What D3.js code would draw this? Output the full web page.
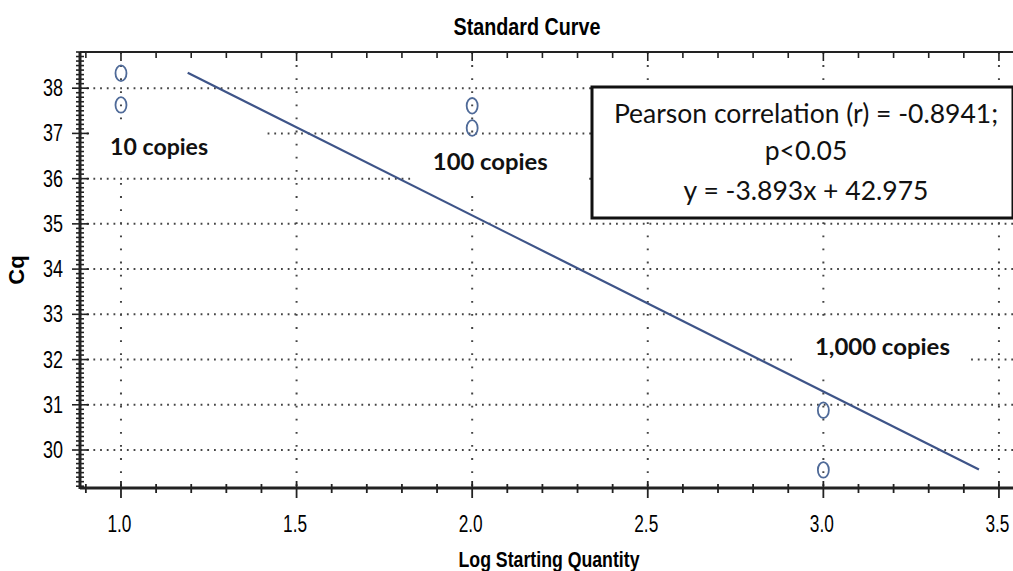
<!DOCTYPE html>
<html>
<head>
<meta charset="utf-8">
<script src="https://cdn.jsdelivr.net/npm/d3@7"></script>
<style>
html,body{margin:0;padding:0;background:#fff;}
svg{display:block;}
</style>
</head>
<body>
<svg id="chart" width="1013" height="571"></svg>
<script>
// ---- data ----
const xValues = [1.0, 1.0, 2.0, 2.0, 3.0, 3.0];
const cqValues = [38.33, 37.63, 37.61, 37.12, 30.88, 29.56];
const fitX = [1.19, 3.443];
const fitY = [38.34, 29.57];
const xTickValues = [1.0, 1.5, 2.0, 2.5, 3.0, 3.5];
const yTickValues = [30, 31, 32, 33, 34, 35, 36, 37, 38];
const copyLabels = ["10 copies", "100 copies", "1,000 copies"];
const copyLabelX = [0.969, 1.888, 2.976];
const copyLabelY = [36.525, 36.19, 32.10];
const statsLines = ["Pearson correlation (r) = -0.8941;", "p<0.05", "y = -3.893x + 42.975"];
const titleText = "Standard Curve";
const xTitle = "Log Starting Quantity";
const yTitle = "Cq";

(function () {
// ---- layout ----
const pL = 80, pR = 1013, pT = 52, pB = 488;
const svg = d3.select("#chart");
const x = d3.scaleLinear().domain([0.8833, 3.540]).range([pL, pR]);
const y = d3.scaleLinear().domain([29.16, 38.80]).range([pB, pT]);

const narrow = "'Liberation Sans',Arial,sans-serif";
const calib = "Lato,'Noto Sans',sans-serif";

// grid
const g = svg.append("g");
g.selectAll(".hg").data(yTickValues).enter().append("line")
  .attr("x1", pL).attr("x2", pR)
  .attr("y1", d => y(d)).attr("y2", d => y(d))
  .attr("stroke", "#444").attr("stroke-width", 2)
  .attr("stroke-dasharray", "1.8,4.9");
g.selectAll(".vg").data(xTickValues).enter().append("line")
  .attr("x1", d => x(d)).attr("x2", d => x(d))
  .attr("y1", pT).attr("y2", pB)
  .attr("stroke", "#444").attr("stroke-width", 2)
  .attr("stroke-dasharray", "1.8,11.3");

// white boxes behind copy labels
copyLabels.forEach((t, i) => {
  svg.append("rect")
    .attr("x", x(copyLabelX[i]) - 21).attr("y", y(copyLabelY[i]) - 32)
    .attr("width", 177).attr("height", 49).attr("fill", "#fff");
});

// regression line
svg.append("line")
  .attr("x1", x(fitX[0])).attr("y1", y(fitY[0]))
  .attr("x2", x(fitX[1])).attr("y2", y(fitY[1]))
  .attr("stroke", "#3e5488").attr("stroke-width", 2.2);

// points
svg.selectAll(".pt").data(xValues).enter().append("ellipse")
  .attr("cx", d => x(d)).attr("cy", (d, i) => y(cqValues[i]))
  .attr("rx", 5.5).attr("ry", 7.8)
  .attr("fill", "none").attr("stroke", "#4f6a98").attr("stroke-width", 1.8);

// copy labels
const labelW = [98, 115, 135];
copyLabels.forEach((t, i) => {
  svg.append("text")
    .attr("x", x(copyLabelX[i])).attr("y", y(copyLabelY[i]))
    .attr("font-family", calib).attr("font-weight", "bold")
    .attr("font-size", 23.5).attr("fill", "#111")
    .attr("textLength", labelW[i]).attr("lengthAdjust", "spacingAndGlyphs")
    .text(t);
});

// stats box
svg.append("rect").attr("x", 592).attr("y", 87).attr("width", 421).attr("height", 131)
  .attr("fill", "#fff").attr("stroke", "#111").attr("stroke-width", 3);
const statBase = [122.5, 159.5, 199.5];
statsLines.forEach((t, i) => {
  svg.append("text").attr("x", 806).attr("y", statBase[i])
    .attr("text-anchor", "middle")
    .attr("font-family", calib).attr("font-size", 26.5).attr("fill", "#111").text(t);
});

// axes
const axisColor = "#222";
const isMajorX = d => Math.abs(d * 2 - Math.round(d * 2)) < 1e-6;
const isMajorY = d => Math.abs(d - Math.round(d)) < 1e-6;
const xMinor = d3.range(9, 36).map(v => v / 10);
const yMinor = d3.range(292, 389).map(v => v / 10);
svg.selectAll(".xmt").data(xMinor).enter().append("line")
  .attr("x1", d => x(d)).attr("x2", d => x(d))
  .attr("y1", d => pB - (isMajorX(d) ? 7 : 4))
  .attr("y2", d => pB + (isMajorX(d) ? 10 : 5))
  .attr("stroke", axisColor).attr("stroke-width", 1.8);
svg.selectAll(".xtt").data(xMinor).enter().append("line")
  .attr("x1", d => x(d)).attr("x2", d => x(d))
  .attr("y1", pT)
  .attr("y2", d => pT + (isMajorX(d) ? 9 : 6))
  .attr("stroke", axisColor).attr("stroke-width", 1.6);
svg.selectAll(".ymt").data(yMinor).enter().append("line")
  .attr("y1", d => y(d)).attr("y2", d => y(d))
  .attr("x1", d => pL - (isMajorY(d) ? 8 : 4))
  .attr("x2", d => pL + (isMajorY(d) ? 9 : 4))
  .attr("stroke", axisColor).attr("stroke-width", 1.6);

svg.append("line").attr("x1", pL).attr("x2", pR).attr("y1", pT).attr("y2", pT)
  .attr("stroke", axisColor).attr("stroke-width", 2.2);
svg.append("line").attr("x1", pL).attr("x2", pR).attr("y1", pB).attr("y2", pB)
  .attr("stroke", axisColor).attr("stroke-width", 3);
svg.append("line").attr("x1", pL).attr("x2", pL).attr("y1", pT).attr("y2", pB + 1)
  .attr("stroke", axisColor).attr("stroke-width", 3);

// tick labels
svg.selectAll(".xl").data(xTickValues).enter().append("text")
  .attr("x", d => x(d) - 1.5).attr("y", 532).attr("text-anchor", "middle")
  .attr("font-family", narrow).attr("font-size", 23).attr("fill", "#000")
  .attr("textLength", 24).attr("lengthAdjust", "spacingAndGlyphs")
  .text(d => d3.format(".1f")(d));
svg.selectAll(".yl").data(yTickValues).enter().append("text")
  .attr("x", 63).attr("y", d => y(d) + 8).attr("text-anchor", "end")
  .attr("font-family", narrow).attr("font-size", 23).attr("fill", "#000")
  .attr("textLength", 20).attr("lengthAdjust", "spacingAndGlyphs")
  .text(d => d);

// titles
svg.append("text").attr("x", 527).attr("y", 35).attr("text-anchor", "middle")
  .attr("font-family", narrow).attr("font-weight", "bold").attr("font-size", 24)
  .attr("textLength", 147).attr("lengthAdjust", "spacingAndGlyphs")
  .attr("fill", "#000").text(titleText);
svg.append("text").attr("x", 549).attr("y", 567).attr("text-anchor", "middle")
  .attr("font-family", narrow).attr("font-weight", "bold").attr("font-size", 22)
  .attr("textLength", 181).attr("lengthAdjust", "spacingAndGlyphs")
  .attr("fill", "#000").text(xTitle);
svg.append("text").attr("transform", "translate(24,270) rotate(-90)")
  .attr("text-anchor", "middle")
  .attr("font-family", narrow).attr("font-weight", "bold").attr("font-size", 22)
  .attr("fill", "#000").text(yTitle);
})();
</script>
</body>
</html>
